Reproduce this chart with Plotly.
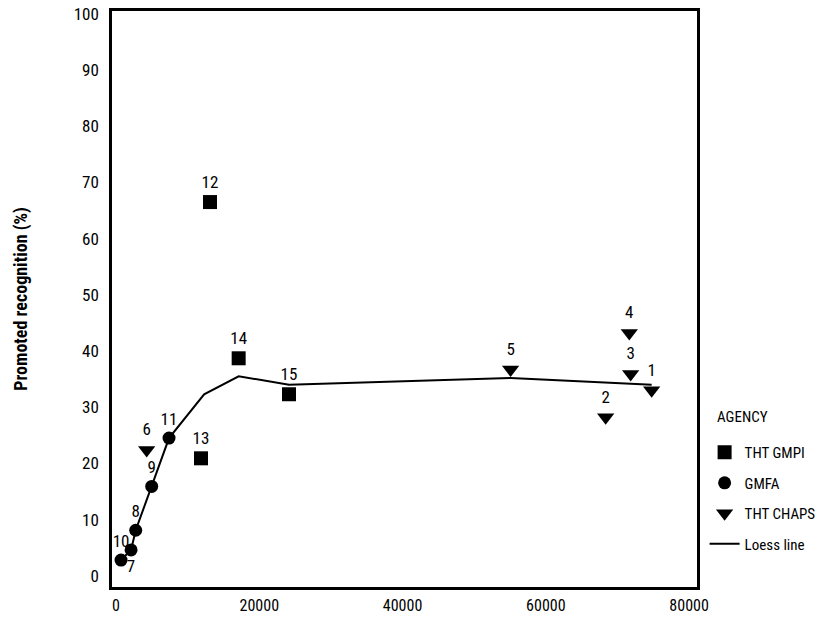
import plotly.graph_objects as go

FONT = "Roboto Condensed, DejaVu Sans Condensed, sans-serif"

# THT GMPI (squares)
gmpi_id = ["12", "13", "14", "15"]
gmpi_x = [13120, 11860, 17120, 24150]
gmpi_y = [66.5, 20.9, 38.7, 32.3]

# GMFA (circles)
gmfa_id = ["7", "8", "9", "10", "11"]
gmfa_x = [2100, 2750, 4980, 700, 7400]
gmfa_y = [4.6, 8.1, 15.9, 2.8, 24.5]

# THT CHAPS (triangles)
chaps_id = ["1", "2", "3", "4", "5", "6"]
chaps_x = [74770, 68350, 71840, 71650, 55080, 4280]
chaps_y = [33.0, 28.2, 35.9, 43.2, 36.7, 22.4]

# Loess line
loess_x = [700, 2100, 2750, 4980, 7400, 12300, 17120, 24150, 55080, 74770]
loess_y = [2.8, 4.6, 8.1, 15.9, 24.5, 32.3, 35.5, 34.0, 35.2, 34.0]

x_ticks = [0, 20000, 40000, 60000, 80000]
y_ticks = [0, 10, 20, 30, 40, 50, 60, 70, 80, 90, 100]

LABEL_FONT = dict(family=FONT, size=17, color="black")

fig = go.Figure()

fig.add_trace(go.Scatter(
    x=loess_x, y=loess_y, mode="lines", name="Loess line",
    line=dict(color="black", width=2), legendrank=4, legendgroup="d"))

fig.add_trace(go.Scatter(
    x=gmpi_x, y=gmpi_y, mode="markers+text", name="THT GMPI",
    text=gmpi_id, textposition="top center",
    marker=dict(symbol="square", size=14, color="black"),
    textfont=LABEL_FONT, legendrank=1, legendgroup="a"))

gmfa_pos = ["bottom center" if t == "7" else "top center" for t in gmfa_id]
fig.add_trace(go.Scatter(
    x=gmfa_x, y=gmfa_y, mode="markers+text", name="GMFA",
    text=gmfa_id, textposition=gmfa_pos,
    marker=dict(symbol="circle", size=13, color="black"),
    textfont=LABEL_FONT, legendrank=2, legendgroup="b"))

fig.add_trace(go.Scatter(
    x=chaps_x, y=chaps_y, mode="markers+text", name="THT CHAPS",
    text=chaps_id, textposition="top center",
    marker=dict(symbol="triangle-down", size=15, color="black"),
    textfont=LABEL_FONT, legendrank=3, legendgroup="c"))

fig.add_annotation(
    text="AGENCY", xref="paper", yref="paper", x=1.031, y=0.296,
    xanchor="left", yanchor="middle", showarrow=False,
    font=dict(family=FONT, size=15, color="black"))

fig.update_layout(
    width=818, height=618,
    margin=dict(l=112, r=121, t=11, b=31, autoexpand=False),
    paper_bgcolor="white", plot_bgcolor="white",
    font=dict(family=FONT, size=16, color="black"),
    showlegend=True,
    legend=dict(
        x=1.013, xanchor="left", y=0.262, yanchor="top",
        font=dict(family=FONT, size=15),
        itemwidth=30, tracegroupgap=8, traceorder="grouped",
        bgcolor="rgba(0,0,0,0)"),
    xaxis=dict(
        range=[-560, 81100], tickvals=x_ticks,
        ticktext=[str(v) for v in x_ticks],
        showgrid=False, zeroline=False, showline=True, mirror=True,
        linecolor="black", linewidth=2.5, ticks="",
        ticklabelstandoff=2, tickfont=dict(family=FONT, size=16)),
    yaxis=dict(
        range=[-2, 100.5], tickvals=y_ticks,
        showgrid=False, zeroline=False, showline=True, mirror=True,
        linecolor="black", linewidth=2.5, ticks="",
        ticklabelstandoff=7, tickfont=dict(family=FONT, size=17),
        title=dict(text="<b>Promoted recognition (%)</b>", standoff=42,
                   font=dict(family=FONT, size=18))),
)

fig.write_html("out.html", config={"displayModeBar": False},
               post_script="document.body.style.margin='0';")
